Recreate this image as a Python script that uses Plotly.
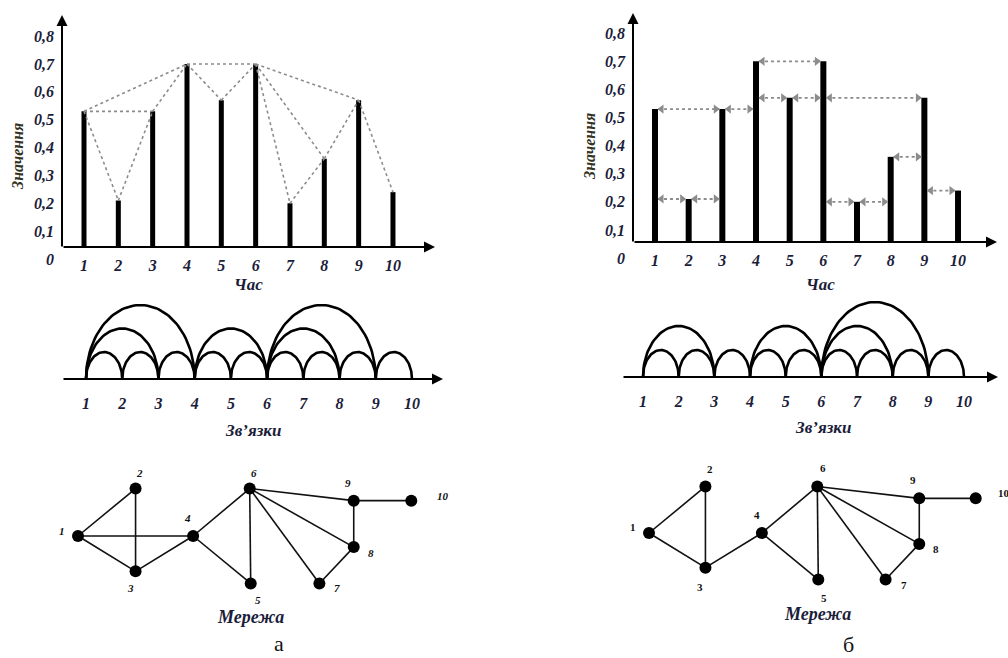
import numpy as np
import plotly.graph_objects as go

W, H = 1008, 658

# ---------------- data ----------------
times = [1, 2, 3, 4, 5, 6, 7, 8, 9, 10]
values = [0.53, 0.21, 0.53, 0.70, 0.57, 0.70, 0.20, 0.36, 0.57, 0.24]
y_tick_vals = [0, 0.1, 0.2, 0.3, 0.4, 0.5, 0.6, 0.7, 0.8]
y_tick_text = ["0", "0,1", "0,2", "0,3", "0,4", "0,5", "0,6", "0,7", "0,8"]
x_tick_text = [str(t) for t in times]

# natural visibility links (panel а)
nvg_links = [(1, 2), (1, 3), (1, 4), (2, 3), (3, 4), (4, 5), (4, 6), (5, 6),
             (6, 7), (6, 8), (6, 9), (7, 8), (8, 9), (9, 10)]
# horizontal visibility links (panel б)
hvg_links = [(1, 2), (1, 3), (2, 3), (3, 4), (4, 5), (4, 6), (5, 6),
             (6, 7), (6, 8), (6, 9), (7, 8), (8, 9), (9, 10)]
# horizontal sight lines drawn as arrows in panel б
hvg_arrows = [(1, 2), (2, 3), (1, 3), (3, 4), (4, 5), (5, 6), (4, 6),
              (6, 7), (7, 8), (6, 9), (8, 9), (9, 10)]

# network layout (shared by both networks), node 1 at origin, y up
net_x = [0, 57, 57, 114, 171, 170, 239, 273, 273, 330]
net_y = [0, 47, -35, 0, -47, 47, -47, -11, 35, 35]

# ---------------- style / geometry ----------------
FONT = "Liberation Serif, Times New Roman, serif"
TXT = "#1b1d3a"
GREY = "#8c8c8c"


def fx(px):
    return px / W


def fy(py):
    return 1 - py / H


def xr(lo, hi, p0, s, v0=1.0):
    return [v0 + (lo - p0) / s, v0 + (hi - p0) / s]


def yr(top, bot, p0, s, v0=0.0):
    return [v0 + (p0 - bot) / s, v0 + (p0 - top) / s]


def paper_text(px, py, text, size, color=TXT, weight="bold", style="italic", angle=0):
    return dict(x=fx(px), y=fy(py), xref="paper", yref="paper", text=text,
                showarrow=False, xanchor="center", yanchor="middle", textangle=angle,
                font=dict(family=FONT, size=size, color=color, weight=weight, style=style))


fig = go.Figure()
layout = dict(width=W, height=H, autosize=False, margin=dict(l=0, r=0, t=0, b=0, pad=0),
              paper_bgcolor="white", plot_bgcolor="rgba(0,0,0,0)",
              showlegend=False, font=dict(family=FONT, color=TXT))
annotations = []

# panel specifications for the two bar charts
bar_panels = [
    dict(ax="", x1=84, step=34.33, zero=259, spu=278.6, axis_py=247, axis_px=62,
         xend=435, ytop=15, dom_x=(45, 450), dom_y=(5, 268), bw_px=5,
         links=nvg_links, kind="nvg", title_xy=(17, 157), chas_xy=(248, 285)),
    dict(ax="2", x1=655, step=33.67, zero=258, spu=281.0, axis_py=242, axis_px=633,
         xend=997, ytop=13, dom_x=(615, 1006), dom_y=(5, 268), bw_px=6,
         links=hvg_arrows, kind="hvg", title_xy=(590, 147), chas_xy=(820, 285)),
]

for P in bar_panels:
    xa, ya = "x" + P["ax"], "y" + P["ax"]
    xkey, ykey = "xaxis" + P["ax"], "yaxis" + P["ax"]
    y0 = (P["zero"] - P["axis_py"]) / P["spu"]
    bw = P["bw_px"] / P["step"]
    layout[xkey] = dict(domain=[fx(P["dom_x"][0]), fx(P["dom_x"][1])],
                        range=xr(P["dom_x"][0], P["dom_x"][1], P["x1"], P["step"]),
                        anchor="free", position=fy(P["axis_py"]),
                        tickvals=times, ticktext=x_tick_text, ticks="",
                        showgrid=False, zeroline=False, showline=False,
                        ticklabelstandoff=7,
                        tickfont=dict(family=FONT, size=16, color=TXT,
                                      weight="bold", style="italic"))
    layout[ykey] = dict(domain=[fy(P["dom_y"][1]), fy(P["dom_y"][0])],
                        range=yr(P["dom_y"][0], P["dom_y"][1], P["zero"], P["spu"]),
                        anchor="free", position=fx(P["axis_px"]),
                        tickvals=y_tick_vals, ticktext=y_tick_text, ticks="",
                        showgrid=False, zeroline=False, showline=False,
                        ticklabelstandoff=8,
                        tickfont=dict(family=FONT, size=16, color=TXT,
                                      weight="bold", style="italic"))
    # bars
    fig.add_trace(go.Bar(x=times, y=[v - y0 for v in values], base=y0, width=bw,
                         marker=dict(color="black", line=dict(width=0)),
                         xaxis=xa, yaxis=ya, hoverinfo="skip"))
    # axis arrows
    x_lo = 1 + (P["axis_px"] - P["x1"]) / P["step"]
    x_hi = 1 + (P["xend"] - P["x1"]) / P["step"]
    y_top = (P["zero"] - P["ytop"]) / P["spu"]
    y_bot = (P["zero"] - P["axis_py"] - 1) / P["spu"]
    for (hx, hy, tx, ty) in [(x_hi, y0, x_lo, y0), (x_lo, y_top, x_lo, y_bot)]:
        annotations.append(dict(x=hx, y=hy, ax=tx, ay=ty, xref=xa, yref=ya,
                                axref=xa, ayref=ya, text="", showarrow=True,
                                arrowhead=2, arrowsize=1.1, arrowwidth=2,
                                arrowcolor="black"))
    if P["kind"] == "nvg":
        lx, ly = [], []
        for i, j in P["links"]:
            lx += [i, j, None]
            ly += [values[i - 1], values[j - 1], None]
        fig.add_trace(go.Scatter(x=lx, y=ly, mode="lines", xaxis=xa, yaxis=ya,
                                 line=dict(color=GREY, width=1.6, dash="dot"),
                                 hoverinfo="skip"))
    else:
        lx, ly, lhx, lhy, rhx, rhy = [], [], [], [], [], []
        off = 3.5 / P["step"]
        for i, j in P["links"]:
            h = min(values[i - 1], values[j - 1])
            a, b = i + bw / 2, j - bw / 2
            lx += [a, b, None]
            ly += [h, h, None]
            lhx.append(a + off)
            lhy.append(h)
            rhx.append(b - off)
            rhy.append(h)
        fig.add_trace(go.Scatter(x=lx, y=ly, mode="lines", xaxis=xa, yaxis=ya,
                                 line=dict(color=GREY, width=1.8, dash="dot"),
                                 hoverinfo="skip"))
        fig.add_trace(go.Scatter(x=lhx, y=lhy, mode="markers", xaxis=xa, yaxis=ya,
                                 marker=dict(symbol="triangle-left", size=8, color=GREY),
                                 hoverinfo="skip"))
        fig.add_trace(go.Scatter(x=rhx, y=rhy, mode="markers", xaxis=xa, yaxis=ya,
                                 marker=dict(symbol="triangle-right", size=8, color=GREY),
                                 hoverinfo="skip"))
    # titles
    annotations.append(paper_text(*P["title_xy"], "Значення", 16, color="#33321f", angle=-90))
    annotations.append(paper_text(*P["chas_xy"], "Час", 17))

# ---------------- arc diagrams ----------------
arc_panels = [
    dict(ax="3", x1=86, step=36.22, base=379, x_from=62, x_to=443,
         dom_x=(50, 456), dom_y=(292, 386), links=nvg_links,
         h0=3.5, h1=23.5, title_xy=(253, 430)),
    dict(ax="4", x1=643, step=35.67, base=377, x_from=622, x_to=998,
         dom_x=(610, 1004), dom_y=(290, 384), links=hvg_links,
         h0=3.0, h1=24.0, title_xy=(823, 427)),
]
t = np.linspace(0, np.pi, 60)
for P in arc_panels:
    xa, ya = "x" + P["ax"], "y" + P["ax"]
    layout["xaxis" + P["ax"]] = dict(
        domain=[fx(P["dom_x"][0]), fx(P["dom_x"][1])],
        range=xr(P["dom_x"][0], P["dom_x"][1], P["x1"], P["step"]),
        anchor="free", position=fy(P["base"]),
        tickvals=times, ticktext=x_tick_text, ticks="", showgrid=False,
        zeroline=False, showline=False, ticklabelstandoff=13,
        tickfont=dict(family=FONT, size=16, color=TXT, weight="bold", style="italic"))
    layout["yaxis" + P["ax"]] = dict(
        domain=[fy(P["dom_y"][1]), fy(P["dom_y"][0])],
        range=[P["base"] - P["dom_y"][1], P["base"] - P["dom_y"][0]],
        visible=False)
    ax_, ay_ = [], []
    for i, j in P["links"]:
        c, a = (i + j) / 2, (j - i) / 2
        h = P["h0"] + P["h1"] * (j - i)
        ax_ += list(c - a * np.cos(t)) + [None]
        ay_ += list(h * np.sin(t)) + [None]
    fig.add_trace(go.Scatter(x=ax_, y=ay_, mode="lines", xaxis=xa, yaxis=ya,
                             line=dict(color="black", width=2.6),
                             hoverinfo="skip"))
    x_lo = 1 + (P["x_from"] - P["x1"]) / P["step"]
    x_hi = 1 + (P["x_to"] - P["x1"]) / P["step"]
    annotations.append(dict(x=x_hi, y=0, ax=x_lo, ay=0, xref=xa, yref=ya,
                            axref=xa, ayref=ya, text="", showarrow=True,
                            arrowhead=2, arrowsize=1.1, arrowwidth=2,
                            arrowcolor="black"))
    annotations.append(paper_text(*P["title_xy"], "Зв’язки", 17))

# ---------------- networks ----------------
net_panels = [
    dict(ax="5", ox=78, oy=536, s=1.01, dom_x=(30, 470), dom_y=(455, 600),
         links=nvg_links, style="italic",
         offs=[(-16, -5), (4, -16), (-5, 17), (-6, -18), (7, 17), (4, -16),
               (18, 5), (17, 6), (-6, -18), (32, -5)],
         title_xy=(250, 617), letter="а", letter_xy=(279, 643)),
    dict(ax="6", ox=649, oy=533, s=0.99, dom_x=(600, 1006), dom_y=(455, 600),
         links=hvg_links, style="normal",
         offs=[(-16, -6), (5, -17), (-5, 19), (-5, -18), (6, 18), (6, -18),
               (18, 5), (17, 5), (-6, -18), (28, -5)],
         title_xy=(817, 614), letter="б", letter_xy=(848, 644)),
]
for P in net_panels:
    xa, ya = "x" + P["ax"], "y" + P["ax"]
    layout["xaxis" + P["ax"]] = dict(
        domain=[fx(P["dom_x"][0]), fx(P["dom_x"][1])],
        range=xr(P["dom_x"][0], P["dom_x"][1], P["ox"], P["s"], v0=0.0),
        visible=False, anchor=ya)
    layout["yaxis" + P["ax"]] = dict(
        domain=[fy(P["dom_y"][1]), fy(P["dom_y"][0])],
        range=yr(P["dom_y"][0], P["dom_y"][1], P["oy"], P["s"]),
        visible=False, anchor=xa)
    ex, ey = [], []
    for i, j in P["links"]:
        ex += [net_x[i - 1], net_x[j - 1], None]
        ey += [net_y[i - 1], net_y[j - 1], None]
    fig.add_trace(go.Scatter(x=ex, y=ey, mode="lines", xaxis=xa, yaxis=ya,
                             line=dict(color="#111111", width=1.6), hoverinfo="skip"))
    fig.add_trace(go.Scatter(x=net_x, y=net_y, mode="markers", xaxis=xa, yaxis=ya,
                             marker=dict(color="black", size=12), hoverinfo="skip"))
    for k in range(len(times)):
        dx, dy = P["offs"][k]
        annotations.append(dict(x=net_x[k], y=net_y[k], xref=xa, yref=ya,
                                xshift=dx, yshift=-dy, text=str(times[k]),
                                showarrow=False, xanchor="center", yanchor="middle",
                                font=dict(family=FONT, size=11, color="#111111",
                                          weight="bold", style=P["style"])))
    annotations.append(paper_text(*P["title_xy"], "Мережа", 18))
    annotations.append(paper_text(*P["letter_xy"], P["letter"], 22,
                                  color="#111111", weight="normal", style="normal"))

layout["annotations"] = annotations
fig.update_layout(**layout)
fig.write_html("out.html",
               config={"displayModeBar": False, "staticPlot": True},
               post_script="document.body.style.margin='0px';"
                           "document.body.style.padding='0px';"
                           "document.body.style.overflow='hidden';")
